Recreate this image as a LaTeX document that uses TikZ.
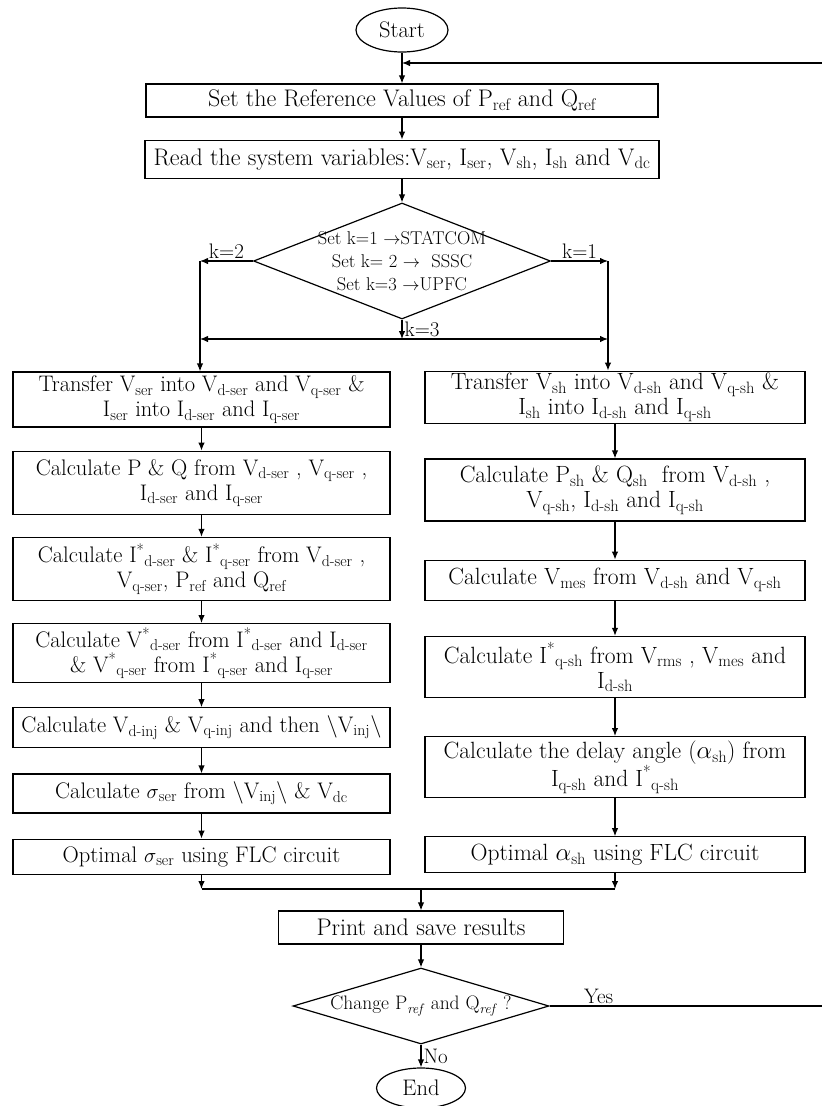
\documentclass[tikz,border=0pt]{standalone}
\usetikzlibrary{positioning,shapes.geometric,arrows.meta}
\newcommand\sbs[1]{\textsubscript{#1}}
\newcommand\spx{\textsuperscript{*}}
\newcommand\bxf{\fontsize{24}{26}\selectfont}
\newcommand\lxf{\fontsize{22.5}{25}\selectfont}
\newcommand\rxf{\fontsize{23.5}{25}\selectfont}
\newcommand\dmf{\fontsize{18.5}{23}\selectfont}
\tikzset{
  proc/.style={draw, rectangle, align=center, inner sep=2pt, font=\bxf},
  lcol/.style={proc, minimum width=377pt, font=\lxf},
  rcol/.style={proc, minimum width=380pt, font=\rxf},
  term/.style={draw, ellipse, inner sep=0pt, minimum width=92pt, minimum height=44pt, font=\fontsize{22.5}{24}\selectfont},
  dec/.style={draw, diamond, align=center, font=\dmf},
  lbl/.style={inner sep=2pt, font=\fontsize{21}{24}\selectfont}
}
\begin{document}
\begin{tikzpicture}[->, >={Latex[length=8pt,width=6.5pt]}, x=1pt, y=-1pt, line width=1.2pt]
    \useasboundingbox (0,0) rectangle (822,1106);

    \node[term] (st) at (402,30) {Start};
    \node[proc, minimum width=512pt, minimum height=33pt] (sr) at (402,100.5) {Set the Reference Values of P\sbs{ref} and Q\sbs{ref}};
    \node[proc, minimum width=514pt, minimum height=38pt, below=22pt of sr] (rd) {Read the system variables:V\sbs{ser}, I\sbs{ser}, V\sbs{sh}, I\sbs{sh} and V\sbs{dc}};
    \node[dec, minimum width=297pt, minimum height=116pt, aspect=2.56, inner sep=-8pt] (sel) at (402,261) {Set k=1 $\rightarrow$STATCOM\\ Set k= 2 $\rightarrow$\ \ SSSC\\ Set k=3 $\rightarrow$UPFC};

    \node[lcol, minimum height=55pt] (s1) at (201.5,399.5) {Transfer V\sbs{ser} into V\sbs{d-ser} and V\sbs{q-ser} \&\\ I\sbs{ser} into I\sbs{d-ser} and I\sbs{q-ser}};
    \node[lcol, minimum height=63pt, below=23pt of s1] (s2) {Calculate P \& Q from V\sbs{d-ser} , V\sbs{q-ser} ,\\ I\sbs{d-ser} and I\sbs{q-ser}};
    \node[lcol, minimum height=63pt, below=22pt of s2] (s3) {Calculate I\spx\sbs{d-ser} \& I\spx\sbs{q-ser} from V\sbs{d-ser} ,\\ V\sbs{q-ser}, P\sbs{ref} and Q\sbs{ref}};
    \node[lcol, minimum height=59pt, below=22pt of s3] (s4) {Calculate V\spx\sbs{d-ser} from I\spx\sbs{d-ser} and I\sbs{d-ser}\\ \& V\spx\sbs{q-ser} from I\spx\sbs{q-ser} and I\sbs{q-ser}};
    \node[lcol, minimum height=40pt, below=24pt of s4] (s5) {Calculate V\sbs{d-inj} \& V\sbs{q-inj} and then \textbackslash V\sbs{inj}\textbackslash};
    \node[lcol, minimum height=39pt, below=25pt of s5] (s6) {Calculate $\sigma$\sbs{ser} from \textbackslash V\sbs{inj}\textbackslash{} \& V\sbs{dc}};
    \node[lcol, minimum height=35pt, below=25pt of s6] (s7) {Optimal $\sigma$\sbs{ser} using FLC circuit};

    \node[rcol, minimum height=51pt] (h1) at (615,397.5) {Transfer V\sbs{sh} into V\sbs{d-sh} and V\sbs{q-sh} \&\\ I\sbs{sh} into I\sbs{d-sh} and I\sbs{q-sh}};
    \node[rcol, minimum height=62pt, below=34pt of h1] (h2) {Calculate P\sbs{sh} \& Q\sbs{sh}\ \ from V\sbs{d-sh} ,\\ V\sbs{q-sh}, I\sbs{d-sh} and I\sbs{q-sh}};
    \node[rcol, minimum height=40pt, below=38pt of h2] (h3) {Calculate V\sbs{mes} from V\sbs{d-sh} and V\sbs{q-sh}};
    \node[rcol, minimum height=61pt, below=35pt of h3] (h4) {Calculate I\spx\sbs{q-sh} from V\sbs{rms} , V\sbs{mes} and\\ I\sbs{d-sh}};
    \node[rcol, minimum height=61pt, below=38pt of h4] (h5) {Calculate the delay angle ($\alpha$\sbs{sh}) from\\ I\sbs{q-sh} and I\spx\sbs{q-sh}};
    \node[rcol, minimum height=36pt, below=38pt of h5] (h6) {Optimal $\alpha$\sbs{sh} using FLC circuit};

    \node[proc, minimum width=285pt, minimum height=33pt] (pr) at (421,927.5) {Print and save results};
    \node[dec, minimum width=256pt, minimum height=76pt, aspect=3.37, inner sep=0pt, font=\fontsize{19.5}{22}\selectfont] (chg) at (421,1006) {Change P\sbs{\textit{ref}} and Q\sbs{\textit{ref}} ?};
    \node[term, minimum width=89pt, minimum height=40pt] (en) at (421,1088) {End};

    \coordinate (lp) at (822,63);
    \coordinate (jn) at (402,63);
    \coordinate (k2) at (200,261);
    \coordinate (k1) at (608,261);
    \coordinate (k3) at (402,339);
    \coordinate (ml) at (201.5,889);
    \coordinate (mr) at (615,889);
    \coordinate (mc) at (421,889);
    \coordinate (yr) at (822,1006);

    \path
        (st) edge (sr)
        (lp) edge (jn)
        (sr) edge (rd)
        (rd) edge (sel);
    \path
        (sel.west) edge node[lbl, above] {k=2} (k2)
        (sel.east) edge node[lbl, above] {k=1} (k1)
        (sel.south) edge node[lbl, right] {k=3} (k3)
        (k2) edge (k2 |- s1.north)
        (k1) edge (k1 |- h1.north);
    \path[<->]
        (k2 |- k3) edge (k1 |- k3);
    \path
        (s1) edge (s2)
        (s2) edge (s3)
        (s3) edge (s4)
        (s4) edge (s5)
        (s5) edge (s6)
        (s6) edge (s7);
    \path
        (h1) edge (h2)
        (h2) edge (h3)
        (h3) edge (h4)
        (h4) edge (h5)
        (h5) edge (h6);
    \path
        (s7) edge (ml)
        (h6) edge (mr)
        (mc) edge (pr);
    \draw[-] (ml) -- (mr);
    \path
        (pr) edge (chg)
        (chg) edge node[lbl, right] {No} (en);
    \path[-]
        (chg) edge node[lbl, above, pos=0.18] {Yes} (yr);
\end{tikzpicture}
\end{document}
